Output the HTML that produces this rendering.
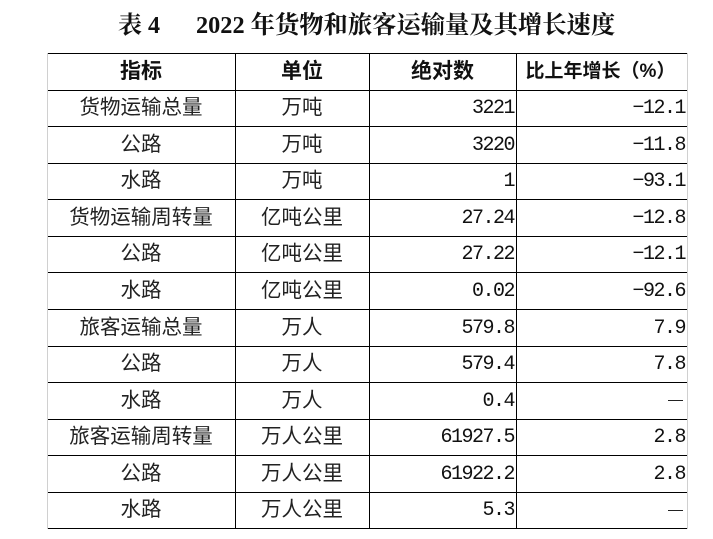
<!DOCTYPE html>
<html><head><meta charset="utf-8">
<style>
html,body{margin:0;padding:0;background:#fff;}
body{width:713px;height:539px;position:relative;overflow:hidden;}
.t{position:absolute;left:0;top:11px;width:713px;height:30px;}
.t span{position:absolute;top:0;line-height:30px;font-weight:bold;color:#111;}
.h{position:absolute;height:1px;background:#000;left:47px;width:640px;}
.v{position:absolute;width:1px;background:#000;top:53px;height:476px;}
.c{position:absolute;color:#111;white-space:nowrap;}
.cn{font-family:"Liberation Sans","Noto Sans CJK SC",sans-serif;font-size:20.5px;text-align:center;color:#222;}
.hd{font-family:"Liberation Sans","Noto Sans CJK SC",sans-serif;font-size:21px;font-weight:bold;text-align:center;}
.num{font-family:"Liberation Mono",monospace;font-size:20px;letter-spacing:-1.5px;text-align:right;}
.n3{left:369px;width:145px;}
.n4{left:516px;width:169px;}
</style></head><body>
<div class="t">
<span style="left:118px;font-family:'Liberation Serif','Noto Serif CJK SC',serif;font-size:24px;">表 4</span>
<span style="left:196px;font-family:'Liberation Serif','Noto Serif CJK SC',serif;font-size:24.3px;">2022 年货物和旅客运输量及其增长速度</span>
</div>

<!-- lines -->
<div class="h" style="top:53px"></div>
<div class="h" style="top:90px"></div>
<div class="h" style="top:126px"></div>
<div class="h" style="top:163px"></div>
<div class="h" style="top:199px"></div>
<div class="h" style="top:236px"></div>
<div class="h" style="top:272px"></div>
<div class="h" style="top:309px"></div>
<div class="h" style="top:346px"></div>
<div class="h" style="top:382px"></div>
<div class="h" style="top:419px"></div>
<div class="h" style="top:455px"></div>
<div class="h" style="top:492px"></div>
<div class="h" style="top:528px"></div>
<div class="v" style="left:47px;background:#d0d0d0"></div>
<div class="v" style="left:235px"></div>
<div class="v" style="left:369px"></div>
<div class="v" style="left:516px"></div>
<div class="v" style="left:687px;background:#d0d0d0"></div>

<!-- header -->
<div class="c hd" style="left:47px;width:188px;top:53px;line-height:37px;">指标</div>
<div class="c hd" style="left:235px;width:134px;top:53px;line-height:37px;">单位</div>
<div class="c hd" style="left:369px;width:147px;top:53px;line-height:37px;">绝对数</div>
<div class="c hd" style="left:516px;width:169px;top:53px;line-height:37px;font-size:19px;">比上年增长（%）</div>

<!-- rows -->
<div class="c cn" style="left:47px;width:188px;top:90px;line-height:36px;">货物运输总量</div>
<div class="c cn" style="left:235px;width:134px;top:90px;line-height:36px;">万吨</div>
<div class="c num n3" style="top:91px;line-height:36px;">3221</div>
<div class="c num n4" style="top:91px;line-height:36px;">−12.1</div>

<div class="c cn" style="left:47px;width:188px;top:126px;line-height:37px;">公路</div>
<div class="c cn" style="left:235px;width:134px;top:126px;line-height:37px;">万吨</div>
<div class="c num n3" style="top:127px;line-height:37px;">3220</div>
<div class="c num n4" style="top:127px;line-height:37px;">−11.8</div>

<div class="c cn" style="left:47px;width:188px;top:163px;line-height:36px;">水路</div>
<div class="c cn" style="left:235px;width:134px;top:163px;line-height:36px;">万吨</div>
<div class="c num n3" style="top:164px;line-height:36px;">1</div>
<div class="c num n4" style="top:164px;line-height:36px;">−93.1</div>

<div class="c cn" style="left:47px;width:188px;top:199px;line-height:37px;">货物运输周转量</div>
<div class="c cn" style="left:235px;width:134px;top:199px;line-height:37px;">亿吨公里</div>
<div class="c num n3" style="top:200px;line-height:37px;">27.24</div>
<div class="c num n4" style="top:200px;line-height:37px;">−12.8</div>

<div class="c cn" style="left:47px;width:188px;top:236px;line-height:36px;">公路</div>
<div class="c cn" style="left:235px;width:134px;top:236px;line-height:36px;">亿吨公里</div>
<div class="c num n3" style="top:237px;line-height:36px;">27.22</div>
<div class="c num n4" style="top:237px;line-height:36px;">−12.1</div>

<div class="c cn" style="left:47px;width:188px;top:272px;line-height:37px;">水路</div>
<div class="c cn" style="left:235px;width:134px;top:272px;line-height:37px;">亿吨公里</div>
<div class="c num n3" style="top:273px;line-height:37px;">0.02</div>
<div class="c num n4" style="top:273px;line-height:37px;">−92.6</div>

<div class="c cn" style="left:47px;width:188px;top:309px;line-height:37px;">旅客运输总量</div>
<div class="c cn" style="left:235px;width:134px;top:309px;line-height:37px;">万人</div>
<div class="c num n3" style="top:310px;line-height:37px;">579.8</div>
<div class="c num n4" style="top:310px;line-height:37px;">7.9</div>

<div class="c cn" style="left:47px;width:188px;top:346px;line-height:36px;">公路</div>
<div class="c cn" style="left:235px;width:134px;top:346px;line-height:36px;">万人</div>
<div class="c num n3" style="top:347px;line-height:36px;">579.4</div>
<div class="c num n4" style="top:347px;line-height:36px;">7.8</div>

<div class="c cn" style="left:47px;width:188px;top:382px;line-height:37px;">水路</div>
<div class="c cn" style="left:235px;width:134px;top:382px;line-height:37px;">万人</div>
<div class="c num n3" style="top:383px;line-height:37px;">0.4</div>
<div class="c" style="left:668px;width:15px;top:400px;height:1px;background:#222;"></div>

<div class="c cn" style="left:47px;width:188px;top:419px;line-height:36px;">旅客运输周转量</div>
<div class="c cn" style="left:235px;width:134px;top:419px;line-height:36px;">万人公里</div>
<div class="c num n3" style="top:420px;line-height:36px;">61927.5</div>
<div class="c num n4" style="top:420px;line-height:36px;">2.8</div>

<div class="c cn" style="left:47px;width:188px;top:455px;line-height:37px;">公路</div>
<div class="c cn" style="left:235px;width:134px;top:455px;line-height:37px;">万人公里</div>
<div class="c num n3" style="top:456px;line-height:37px;">61922.2</div>
<div class="c num n4" style="top:456px;line-height:37px;">2.8</div>

<div class="c cn" style="left:47px;width:188px;top:492px;line-height:36px;">水路</div>
<div class="c cn" style="left:235px;width:134px;top:492px;line-height:36px;">万人公里</div>
<div class="c num n3" style="top:493px;line-height:36px;">5.3</div>
<div class="c" style="left:668px;width:15px;top:510px;height:1px;background:#222;"></div>
</body></html>
